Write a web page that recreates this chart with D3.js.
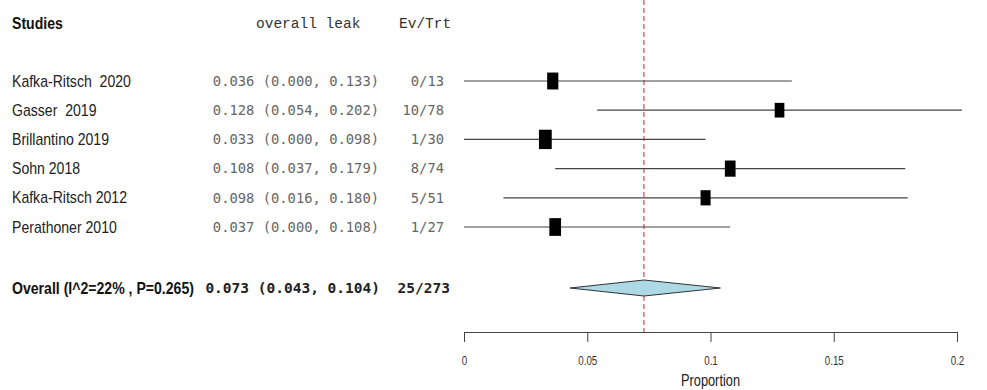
<!DOCTYPE html>
<html>
<head>
<meta charset="utf-8">
<script src="https://cdn.jsdelivr.net/npm/d3@7"></script>
<style>
	body { margin: 0; background: #fff; }
	text { white-space: pre; }
</style>
</head>
<body>
<svg id="canvas" width="987" height="390"></svg>
<script>
// study rows
const studies = ['Kafka-Ritsch  2020', 'Gasser  2019', 'Brillantino 2019', 'Sohn 2018', 'Kafka-Ritsch 2012', 'Perathoner 2010'];
const estimates = [0.036, 0.128, 0.033, 0.108, 0.098, 0.037];
const lowerCI = [0.0, 0.054, 0.0, 0.037, 0.016, 0.0];
const upperCI = [0.133, 0.202, 0.098, 0.179, 0.18, 0.108];
const events = [0, 10, 1, 8, 5, 1];
const totals = [13, 78, 30, 74, 51, 27];
const weights = [17.0, 12.8, 22.3, 15.6, 13.7, 18.7];

// pooled result
const overallLabel = 'Overall (I^2=22% , P=0.265)';
const overallEst = 0.073;
const overallCI = [0.043, 0.104];
const overallEvents = 25;
const overallTotal = 273;

const xTicks = [0, 0.05, 0.1, 0.15, 0.2];

(() => {
	let svg = d3.select('#canvas');
	let fmt = d3.format('.3f');
	let sans = 'Liberation Sans, Arial, sans-serif';
	let mono = 'DejaVu Sans Mono, monospace';
	let narrow = 0.88;

	let x = d3.scaleLinear().domain([0, 0.2]).range([464, 957]);
	let y = d3.scalePoint().domain(d3.range(studies.length)).range([81, 227]);
	let yOverall = 288;
	let yAxis = 332;
	let boxH = d3.scaleSqrt().domain([0, 25]).range([0, 20.5]);

	// condensed sans text, like the R device output
	let label = (px, py, txt, bold) => svg.append('text')
		.attr('transform', 'translate(' + px + ',' + py + ') scale(' + narrow + ',1)')
		.attr('dy', '0.35em')
		.attr('font-family', sans)
		.attr('font-weight', bold ? 'bold' : 'normal')
		.attr('font-size', 16)
		.attr('fill', bold ? '#111' : '#222')
		.text(txt);

	// headers
	label(12, 23, 'Studies', true);
	svg.append('text').attr('x', 256).attr('y', 23).attr('dy', '0.35em')
		.attr('font-family', 'Liberation Mono, Courier New, monospace')
		.attr('font-size', 14.5).attr('fill', '#333').text('overall leak');
	svg.append('text').attr('x', 399).attr('y', 23).attr('dy', '0.35em')
		.attr('font-family', 'Liberation Mono, Courier New, monospace')
		.attr('font-size', 14.5).attr('fill', '#333').text('Ev/Trt');

	// reference line at pooled estimate
	svg.append('line')
		.attr('x1', x(overallEst)).attr('x2', x(overallEst))
		.attr('y1', 0).attr('y2', yAxis)
		.attr('stroke', '#e02020').attr('stroke-width', 1)
		.attr('stroke-dasharray', '5,3');

	studies.forEach((d, i) => label(12, y(i), d, false));

	let rows = svg.selectAll('g.row')
		.data(studies)
		.enter()
		.append('g')
		.attr('class', 'row');

	rows.append('text')
		.attr('x', 379).attr('y', (d, i) => y(i)).attr('dy', '0.35em')
		.attr('text-anchor', 'end')
		.attr('font-family', mono)
		.attr('font-size', 13.8).attr('fill', '#666')
		.text((d, i) => fmt(estimates[i]) + ' (' + fmt(lowerCI[i]) + ', ' + fmt(upperCI[i]) + ')');

	rows.append('text')
		.attr('x', 444).attr('y', (d, i) => y(i)).attr('dy', '0.35em')
		.attr('text-anchor', 'end')
		.attr('font-family', mono)
		.attr('font-size', 13.8).attr('fill', '#666')
		.text((d, i) => events[i] + '/' + totals[i]);

	rows.append('line')
		.attr('x1', (d, i) => x(lowerCI[i])).attr('x2', (d, i) => x(upperCI[i]))
		.attr('y1', (d, i) => y(i)).attr('y2', (d, i) => y(i))
		.attr('stroke', '#444').attr('stroke-width', 1.2);

	rows.append('rect')
		.attr('width', (d, i) => boxH(weights[i]) * 0.66)
		.attr('height', (d, i) => boxH(weights[i]))
		.attr('x', (d, i) => x(estimates[i]) - boxH(weights[i]) * 0.33)
		.attr('y', (d, i) => y(i) - boxH(weights[i]) / 2)
		.attr('fill', '#000');

	// overall row
	label(12, yOverall, overallLabel, true);
	svg.append('text').attr('x', 380).attr('y', yOverall).attr('dy', '0.35em')
		.attr('text-anchor', 'end')
		.attr('font-family', mono).attr('font-weight', 'bold')
		.attr('font-size', 14.5).attr('fill', '#222')
		.text(fmt(overallEst) + ' (' + fmt(overallCI[0]) + ', ' + fmt(overallCI[1]) + ')');
	svg.append('text').attr('x', 450).attr('y', yOverall).attr('dy', '0.35em')
		.attr('text-anchor', 'end')
		.attr('font-family', mono).attr('font-weight', 'bold')
		.attr('font-size', 14.5).attr('fill', '#222')
		.text(overallEvents + '/' + overallTotal);

	let dh = 8;
	svg.append('path')
		.attr('d', 'M' + x(overallCI[0]) + ',' + yOverall +
			'L' + x(overallEst) + ',' + (yOverall - dh) +
			'L' + x(overallCI[1]) + ',' + yOverall +
			'L' + x(overallEst) + ',' + (yOverall + dh) + 'Z')
		.attr('fill', '#add8e6').attr('stroke', '#333').attr('stroke-width', 1);

	// axis
	let axis = svg.append('g')
		.attr('transform', 'translate(0,' + yAxis + ')')
		.call(d3.axisBottom(x).tickValues(xTicks).tickFormat((d) => String(d))
			.tickSize(10).tickSizeOuter(0).tickPadding(14));
	axis.select('.domain').attr('stroke', '#444');
	axis.selectAll('.tick line').attr('stroke', '#444');
	axis.selectAll('.tick text')
		.attr('font-family', sans)
		.attr('font-size', 13).attr('fill', '#333')
		.attr('transform', 'scale(0.75,1)');

	svg.append('text')
		.attr('transform', 'translate(' + x(0.1) + ',380) scale(0.8,1)')
		.attr('dy', '0.35em')
		.attr('text-anchor', 'middle')
		.attr('font-family', sans)
		.attr('font-size', 16).attr('fill', '#222')
		.text('Proportion');
})();
</script>
</body>
</html>
